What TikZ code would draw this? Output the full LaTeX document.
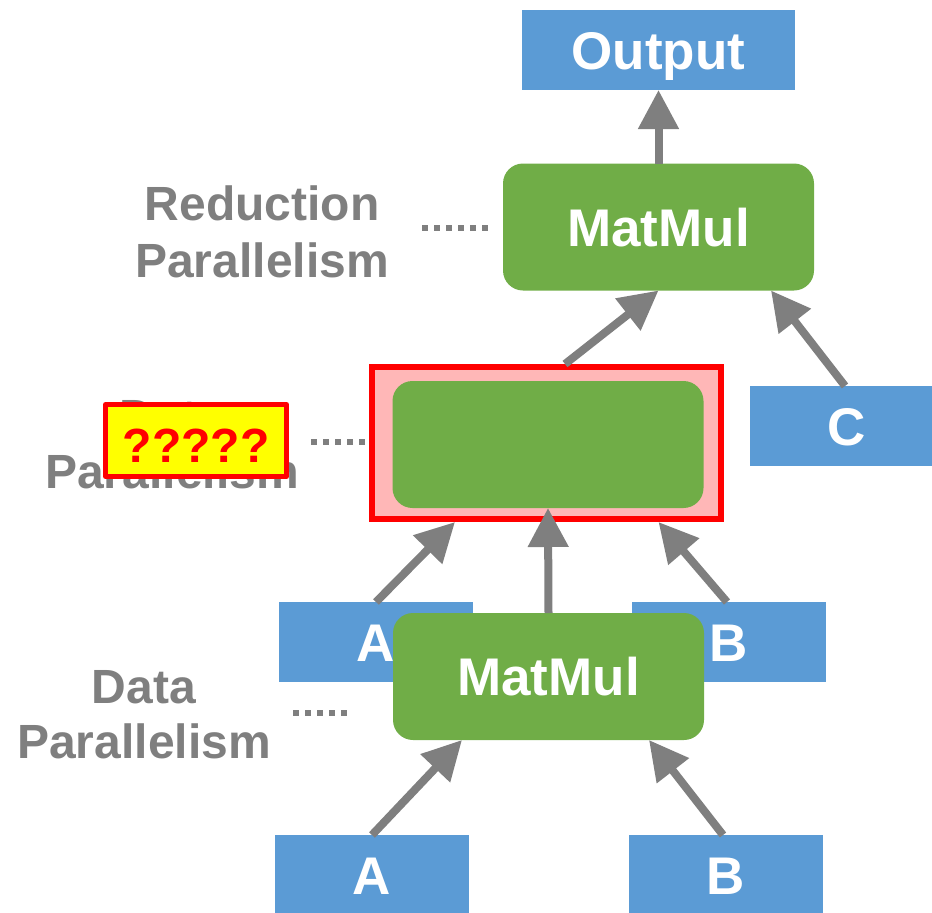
\documentclass[tikz,border=0pt]{standalone}
\usepackage{fontspec}
\setmainfont{Liberation Sans}
\usetikzlibrary{arrows.meta,calc}

\definecolor{boxblue}{HTML}{5B9BD5}
\definecolor{opgreen}{HTML}{70AD47}
\definecolor{flowgray}{HTML}{7F7F7F}
\definecolor{hlpink}{HTML}{FFB7B7}
\definecolor{hlred}{HTML}{FF0000}
\definecolor{qyellow}{HTML}{FFFF00}

\begin{document}
\begin{tikzpicture}[x=1pt,y=-1pt,
  labelfont/.style={font=\fontsize{53}{53}\selectfont\bfseries, text=white,
                    text height=38pt, text depth=0pt},
  tensor/.style={labelfont, fill=boxblue, minimum width=194pt, minimum height=80pt,
                 inner sep=0pt, outer sep=0pt},
  op/.style={labelfont, fill=opgreen, rounded corners=20pt, minimum width=311pt,
             minimum height=127pt, inner sep=0pt, outer sep=0pt},
  side/.style={text=flowgray, font=\fontsize{48}{48}\selectfont\bfseries,
               anchor=base, inner sep=0pt},
  flow/.style={draw=flowgray, line width=8pt, -{Triangle[length=39pt,width=39pt]}},
  dots/.style={draw=flowgray, line width=6pt, dash pattern=on 6pt off 6pt},
]
\useasboundingbox (0,0) rectangle (932,913);

% side captions
\node[side] (redcapA) at (262,220) {Reduction};
\node[side] (redcapB) at (262,277) {Parallelism};
\node[side] (midcapA) at (172,433) {Data};
\node[side] (midcapB) at (172,488) {Parallelism};
\node[side] (botcapA) at (144,703) {Data};
\node[side] (botcapB) at (144,758) {Parallelism};

% top level
\node[tensor, minimum width=273pt] (out) at (658.5,50) {Output};
\node[op] (topmm) at (658.5,227) {MatMul};
\node[tensor, minimum width=193pt] (c) at (846.5,426) {C};

% highlighted (masked) operator
\node[draw=hlred, fill=hlpink, line width=6pt, minimum width=349pt,
      minimum height=152pt, inner sep=0pt] (hl) at (546.5,443) {};
\node[op] (hidop) at (548,444.5) {};

% middle level
\node[tensor] (ma) at (376,642) {A};
\node[tensor] (mb) at (729,642) {B};
\node[op] (midmm) at (548.5,676.5) {MatMul};

% bottom level
\node[tensor] (ba) at (372,875) {A};
\node[tensor] (bb) at (726,875) {B};

% question tag over the middle caption
\node[draw=hlred, fill=qyellow, line width=5pt, line join=round,
      minimum width=181pt, minimum height=72pt, inner sep=0pt,
      text=hlred, font=\fontsize{48}{48}\selectfont\bfseries,
      text height=43pt, text depth=0pt] (qtag) at (196,440.5) {?????};

% dotted leaders
\coordinate (d1a) at (422,228); \coordinate (d1b) at (488,228);
\coordinate (d2a) at (311,442); \coordinate (d2b) at (365,442);
\coordinate (d3a) at (293,713); \coordinate (d3b) at (348,713);
\draw[dots] (d1a) -- (d1b);
\draw[dots] (d2a) -- (d2b);
\draw[dots] (d3a) -- (d3b);

% data flow
\draw[flow] (topmm.north) -- (out.south);
\draw[flow] ([xshift=18.5pt]hl.north) -- (topmm.south);
\draw[flow] ([xshift=-1.5pt]c.north) -- ([xshift=112.5pt]topmm.south);
\draw[flow] (ma.north) -- ([xshift=-91.5pt]hl.south);
\draw[flow] (midmm.north) -- (hidop.south);
\draw[flow] ([xshift=-2pt]mb.north) -- ([xshift=112pt]hl.south);
\draw[flow] (ba.north) -- ([xshift=-86.5pt]midmm.south);
\draw[flow] ([xshift=-3pt]bb.north) -- ([xshift=100.5pt]midmm.south);
\end{tikzpicture}
\end{document}
